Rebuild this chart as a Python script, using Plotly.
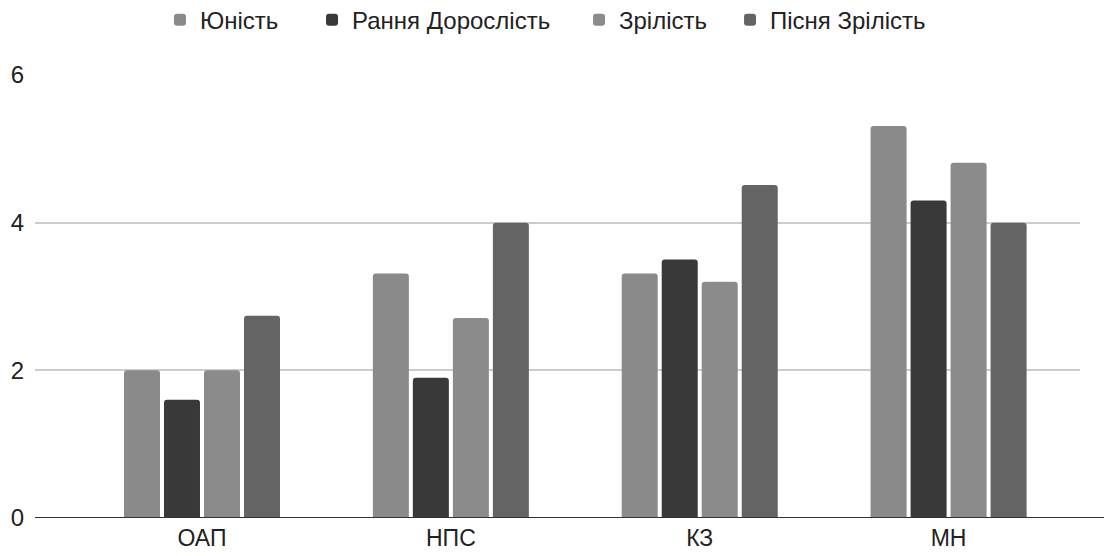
import plotly.graph_objects as go

categories = ["ОАП", "НПС", "КЗ", "МН"]
series_names = ["Юність", "Рання Дорослість", "Зрілість", "Пісня Зрілість"]
youth = [2.0, 3.31, 3.31, 5.31]
early_adult = [1.6, 1.9, 3.5, 4.3]
maturity = [2.0, 2.71, 3.2, 4.81]
late_maturity = [2.74, 4.0, 4.51, 4.0]
colors = ["#8a8a8a", "#393939", "#8b8b8b", "#646464"]
y_ticks = [0, 2, 4, 6]

FS = 24
legend_x = [0.1196, 0.2651, 0.5206, 0.6651]
legend_ids = ["legend", "legend2", "legend3", "legend4"]

fig = go.Figure()
for name, vals, col, lid in zip(series_names, [youth, early_adult, maturity, late_maturity], colors, legend_ids):
    fig.add_trace(go.Bar(name=name, x=categories, y=vals, legend=lid,
                         marker=dict(color=col, line=dict(width=0), cornerradius=3)))

layout_legends = {}
for lid, lx in zip(legend_ids, legend_x):
    layout_legends[lid] = dict(orientation="h", x=lx, xanchor="left", y=0.978, yanchor="middle",
                               yref="container", font=dict(size=FS), bgcolor="rgba(0,0,0,0)")

fig.update_layout(
    width=1104, height=548,
    barmode="group", bargap=0.357, bargroupgap=0.1,
    plot_bgcolor="white", paper_bgcolor="white",
    margin=dict(l=27, r=32, t=66, b=38, autoexpand=False),
    font=dict(family="Liberation Sans, Arial, sans-serif", size=FS, color="#222222"),
    showlegend=True,
    **layout_legends,
)
fig.update_xaxes(range=[-0.671, 3.528], showline=False, ticklabelstandoff=4, automargin=False,
                 ticks="", showgrid=False, tickfont=dict(size=23))
fig.update_yaxes(range=[0, 6.0135], tickvals=y_ticks, showgrid=True, gridcolor="#cccccc", gridwidth=1.5,
                 zeroline=False, showline=False, ticks="", ticklabelstandoff=10, automargin=False,
                 tickfont=dict(size=FS))
fig.add_shape(type="line", xref="paper", yref="y", x0=0, x1=1.031, y0=0, y1=0,
              line=dict(color="#333333", width=2))

fig.write_html("out.html")
